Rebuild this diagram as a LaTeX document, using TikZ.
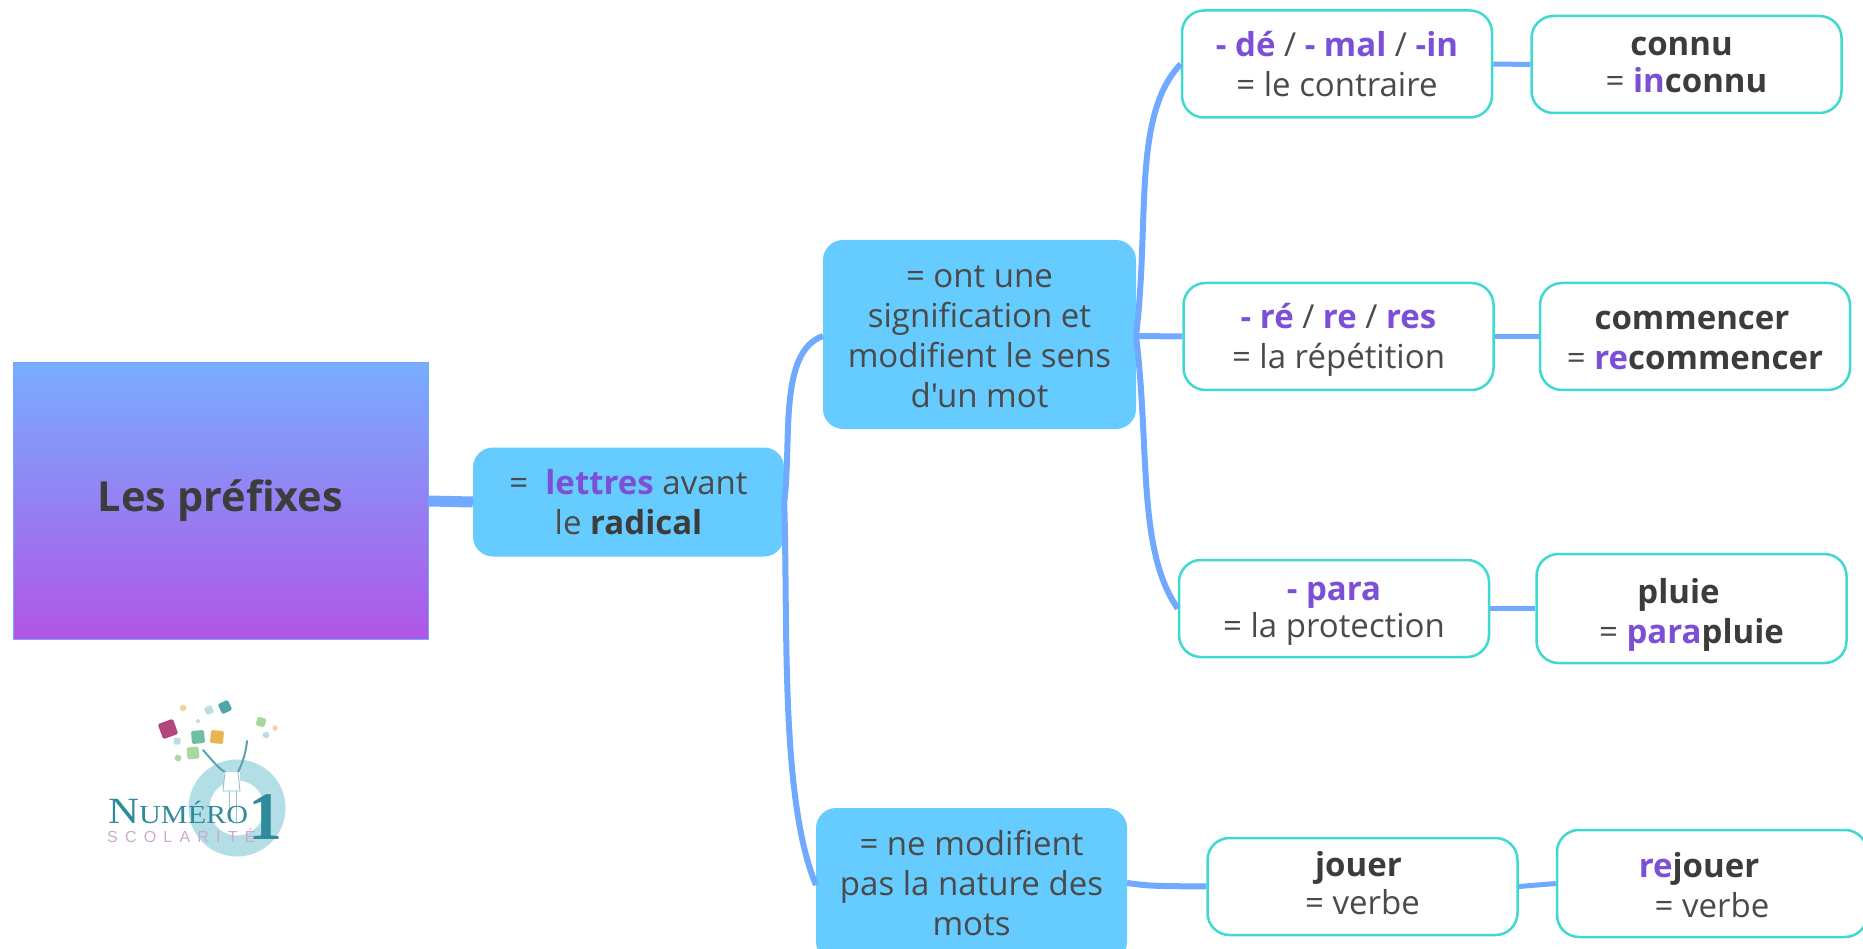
\documentclass[tikz,border=0pt]{standalone}
\usepackage{fontspec}
\setmainfont{Open Sans}[Ligatures=TeXOff]
\newfontfamily\logoserif{Liberation Serif}[FakeStretch=1.16]
\newfontfamily\logoun{Liberation Serif}
\newfontfamily\logosans{Liberation Sans}[LetterSpace=45]
\usepackage{xcolor}
\usepackage{tikz}
\usetikzlibrary{positioning,%
  shapes.geometric%
}

\definecolor{lien}{HTML}{70A9FF}
\definecolor{bleu}{HTML}{66CCFF}
\definecolor{turq}{HTML}{3FD9D2}
\definecolor{violet}{HTML}{7B4FD6}
\definecolor{gris}{HTML}{4A4A4A}
\definecolor{sombre}{HTML}{3C3C3C}
\definecolor{sarcelle}{HTML}{2F8B9C}
\definecolor{anneau}{HTML}{B4DEE6}
\definecolor{mauve}{HTML}{CBA9CB}
\definecolor{logoM}{HTML}{B5457F}
\definecolor{logoV}{HTML}{6FC0A0}
\definecolor{logoO}{HTML}{E8B455}
\definecolor{logoP}{HTML}{A8D8A0}
\definecolor{logoT}{HTML}{4FA5A8}
\definecolor{logoC}{HTML}{BFDDE0}

\newcommand{\pf}[1]{\textcolor{violet}{\textbf{#1}}}
\newcommand{\gr}[1]{\textcolor{sombre}{\textbf{#1}}}
% Cale de hauteur
\newcommand{\cale}[1]{\rule{0pt}{#1}}
\newcommand{\fond}[1]{\rule[-#1]{0pt}{0pt}}

\begin{document}
\begin{tikzpicture}
                    [
                        x=1pt,y=-1pt,
                        every node/.style={align=center,inner sep=0pt,text=gris,font=\fontsize{33}{40}\selectfont},
                        racine/.style={rectangle,draw=lien,line width=1pt,top color=lien!95!white,bottom color=violet!70!magenta!85!white,minimum width=415pt,minimum height=276pt},
                        theme/.style={rectangle,rounded corners=20pt,fill=bleu,minimum width=311pt},
                        mot/.style={rectangle,rounded corners=22pt,draw=turq,line width=2.5pt,fill=white,minimum width=310pt},
                        lienF/.style={draw=lien,line width=6pt},
                        lienG/.style={draw=lien,line width=11pt},
                        lienP/.style={draw=lien,line width=5pt},
                        logoTxt/.style={fill=none}
                    ]

                    % Cadre
                    \clip (0,0) rectangle (1863,949);

                    % Liens
                    \coordinate (w2a) at (823,336);
                    \coordinate (w2b) at (816,885);
                    \coordinate (e2a) at (1136,336);
                    \coordinate (e2b) at (1127,883);

                    % Noeuds
                    \node[racine] (prefixes) at (220.5,501) {\fontsize{41.5}{48}\selectfont\gr{Les préfixes}};
                    \node[theme,minimum height=109pt] (lettres) at (628.5,502) {=\ \ \pf{lettres} avant\\le \gr{radical}};
                    \node[theme,minimum height=189pt,minimum width=313pt] (sens) at (979.5,334.5) {\cale{27pt}= ont une\\signification et\\modifient le sens\\d'un mot};
                    \node[theme,minimum height=154pt] (nature) at (971.5,885) {= ne modifient\\pas la nature des\\mots\fond{5pt}};

                    \node[mot,minimum height=107pt] (contraire) at (1337,64) {\pf{- dé} / \pf{- mal} / \pf{-in}\\= le contraire};
                    \node[mot,minimum height=97pt] (connu) at (1686.5,64.5) {\gr{connu}\hspace*{10pt}\\[-3pt]= \pf{in}\gr{connu}};
                    \node[mot,minimum height=107pt] (repet) at (1338.5,336.5) {\cale{32pt}\pf{- ré} / \pf{re} / \pf{res}\\= la répétition};
                    \node[mot,minimum height=107pt] (commencer) at (1695,336.5) {\cale{26pt}\gr{commencer}\hspace*{6pt}\\= \pf{re}\gr{commencer}};
                    \node[mot,minimum height=97pt] (protect) at (1334,608.5) {\cale{29pt}\pf{- para}\\[-3pt]= la protection};
                    \node[mot,minimum height=109pt] (pluie) at (1691.5,608.5) {\cale{37pt}\gr{pluie}\hspace*{26pt}\\= \pf{para}\gr{pluie}};
                    \node[mot,minimum height=97pt] (jouer) at (1362.5,886.5) {\gr{jouer}\hspace*{8pt}\\[-2pt]= verbe\fond{7pt}};
                    \node[mot,minimum height=107pt] (rejouer) at (1712,883.5) {\cale{29pt}\pf{re}\gr{jouer}\hspace*{26pt}\\= verbe};

                    % Liens
                    \draw[lienG] (prefixes.east) -- (lettres.west);
                    \draw[lienF] (lettres.east) .. controls (792,440) and (778,352) .. (w2a);
                    \draw[lienF] (lettres.east) .. controls (788,620) and (780,800) .. (w2b);
                    \draw[lienF] (e2a) .. controls (1150,220) and (1132,115) .. (contraire.west);
                    \draw[lienF] (e2a) -- (repet.west);
                    \draw[lienF] (e2a) .. controls (1150,450) and (1137,550) .. (protect.west);
                    \draw[lienP] (contraire.east) -- (connu.west);
                    \draw[lienP] (repet.east) -- (commencer.west);
                    \draw[lienP] (protect.east) -- (pluie.west);
                    \draw[lienF] (e2b) .. controls (1150,886) .. (jouer.west);
                    \draw[lienP] (jouer.east) -- (rejouer.west);

                    % Logo
                    \draw[anneau,line width=21pt] (237,808) circle (38);
                    \foreach \cx/\cy/\ang/\col/\taille in {168/729/20/logoM/16,
                        198/737/5/logoV/13, 217/737/-5/logoO/13, 193/753/5/logoP/12,
                        225/707/25/logoT/11, 261/722/-15/logoP/9, 183/708/30/logoO!60/6,
                        209/710/25/logoC/8, 198/721/0/logoC/4, 178/758/-30/logoP/6,
                        177/741/0/logoC/7, 266/735/20/logoC/6, 275/728/0/logoO!60/5}
                    {
                        \fill[\col,rounded corners=1.5pt,rotate around={\ang:(\cx,\cy)}] (\cx-\taille/2,\cy-\taille/2) rectangle (\cx+\taille/2,\cy+\taille/2);
                    }
                    \draw[sarcelle!80,line width=2pt,line cap=round] (203,750) .. controls (212,760) and (218,768) .. (225,772);
                    \draw[sarcelle!80,line width=2pt,line cap=round] (247,741) .. controls (246,752) and (243,762) .. (238,772);
                    \fill[white] (224,772) rectangle (240,793);
                    \draw[sarcelle!55,line width=.8pt] (225,772) -- (223,791) -- (240,791) -- (238,772);
                    \draw[sarcelle!50,line width=1pt] (229,791) -- (229,822) (236,791) -- (236,822);
                    \node[logoTxt,text=sarcelle,anchor=base west] (numero) at (108,823) {\logoserif\fontsize{37}{37}\selectfont N\fontsize{26}{26}\selectfont UMÉRO};
                    \node[logoTxt,text=sarcelle,anchor=base west] (un) at (248,839) {\logoun\bfseries\fontsize{68}{68}\selectfont 1};
                    \node[logoTxt,text=mauve,anchor=base west] (scolarite) at (107,842) {\logosans\fontsize{16}{16}\selectfont SCOLARITÉ};
                \end{tikzpicture}
\end{document}
